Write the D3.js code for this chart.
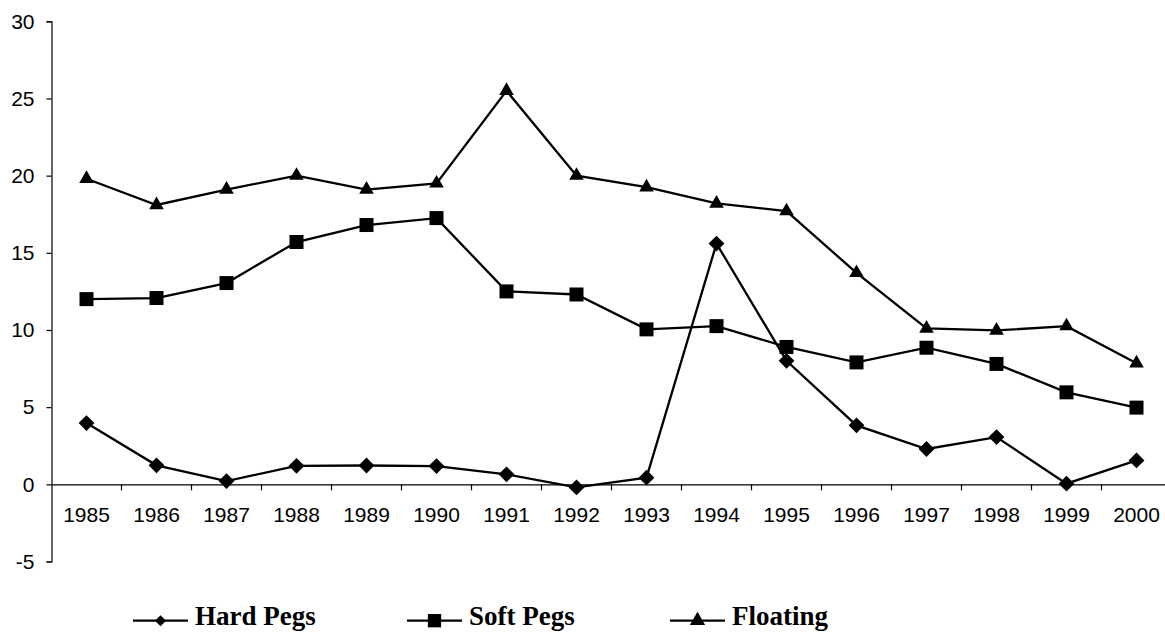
<!DOCTYPE html>
<html>
<head>
<meta charset="utf-8">
<script src="https://cdn.jsdelivr.net/npm/d3@7"></script>
<style>
  html, body { margin: 0; padding: 0; background: #fff; }
  svg { display: block; }
</style>
</head>
<body>
<div id="chart"></div>
<script>
const years = ["1985","1986","1987","1988","1989","1990","1991","1992","1993","1994","1995","1996","1997","1998","1999","2000"];
const hardPegs = [3.97, 1.23, 0.21, 1.2, 1.22, 1.18, 0.65, -0.2, 0.43, 15.6, 8.0, 3.82, 2.29, 3.06, 0.04, 1.55];
const softPegs = [12.0, 12.07, 13.04, 15.7, 16.8, 17.25, 12.5, 12.3, 10.04, 10.25, 8.9, 7.9, 8.85, 7.8, 5.96, 4.97];
const floating = [19.8, 18.1, 19.1, 20.0, 19.1, 19.5, 25.5, 20.0, 19.25, 18.2, 17.7, 13.7, 10.1, 9.97, 10.25, 7.85];
const seriesNames = ["Hard Pegs", "Soft Pegs", "Floating"];
const yTicks = [-5, 0, 5, 10, 15, 20, 25, 30];

const W = 1165, H = 632;
const svg = d3.select("#chart").append("svg").attr("width", W).attr("height", H)
  .style("font-family", "Arial, 'Liberation Sans', sans-serif");

const x = d3.scaleBand().domain(years).range([51.5, 1171.5]).paddingInner(0).paddingOuter(0);
const y = d3.scaleLinear().domain([-5, 30]).range([561.5, 21.3]);

const series = [
  { name: seriesNames[0], values: hardPegs, shape: "diamond" },
  { name: seriesNames[1], values: softPegs, shape: "square" },
  { name: seriesNames[2], values: floating, shape: "triangle" }
];

// Y axis
const yAxis = svg.append("g").attr("transform", "translate(51.5,0)")
  .call(d3.axisLeft(y).tickValues(yTicks).tickSize(5).tickPadding(12).tickFormat(d => String(d)));
yAxis.selectAll("path.domain").attr("stroke", "#000").attr("stroke-width", 1.2);
yAxis.selectAll(".tick line").attr("stroke", "#000").attr("stroke-width", 1.2);
yAxis.selectAll("text").attr("font-size", 21).attr("fill", "#000")
  .style("font-family", "Arial, 'Liberation Sans', sans-serif");

// X axis (category labels, ticks between categories)
const xAxis = svg.append("g").attr("transform", `translate(0,${y(0)})`)
  .call(d3.axisBottom(x).tickSize(0).tickPadding(22.8));
xAxis.selectAll("path.domain").attr("stroke", "#000").attr("stroke-width", 1.2);
xAxis.selectAll("text").attr("font-size", 21).attr("fill", "#000")
  .style("font-family", "Arial, 'Liberation Sans', sans-serif");
xAxis.selectAll(".boundary").data(years.slice(1)).enter().append("line")
  .attr("class", "boundary")
  .attr("x1", d => x(d)).attr("x2", d => x(d))
  .attr("y1", 0).attr("y2", 6)
  .attr("stroke", "#000").attr("stroke-width", 1.2);

// symbols
function markerPath(shape, scaleF) {
  const k = scaleF || 1;
  if (shape === "diamond") return d3.symbol().type(d3.symbolSquare).size(125 * k * k)();
  if (shape === "square") return d3.symbol().type(d3.symbolSquare).size(196 * k * k)();
  return d3.symbol().type(d3.symbolTriangle).size(92 * k * k)();
}
function markerRotate(shape) { return shape === "diamond" ? 45 : 0; }

const line = d3.line().x((d, i) => x(years[i]) + x.bandwidth() / 2).y(d => y(d));

series.forEach(s => {
  const g = svg.append("g");
  g.append("path").datum(s.values).attr("d", line)
    .attr("fill", "none").attr("stroke", "#000").attr("stroke-width", 2.3)
    .attr("stroke-linejoin", "miter");
  g.selectAll("path.mk").data(s.values).enter().append("path")
    .attr("class", "mk")
    .attr("d", markerPath(s.shape))
    .attr("transform", (d, i) => `translate(${x(years[i]) + x.bandwidth() / 2},${y(d)}) rotate(${markerRotate(s.shape)})`)
    .attr("fill", "#000");
});

// Legend
const legendX = [133, 407, 670];
const legendY = 620.7;
series.forEach((s, i) => {
  const g = svg.append("g").attr("transform", `translate(${legendX[i]},${legendY})`);
  g.append("line").attr("x1", 0).attr("x2", 55).attr("y1", 0).attr("y2", 0)
    .attr("stroke", "#000").attr("stroke-width", 2.3);
  const k = s.shape === "diamond" ? 0.7 : (s.shape === "square" ? 0.95 : 1.05);
  g.append("path").attr("d", markerPath(s.shape, k))
    .attr("transform", `translate(27.5,0) rotate(${markerRotate(s.shape)})`)
    .attr("fill", "#000");
  g.append("text").attr("x", 62).attr("y", 4.5)
    .attr("font-family", "'Liberation Serif', 'Times New Roman', serif")
    .attr("font-weight", "bold").attr("font-size", 27).attr("fill", "#000")
    .text(s.name);
});
</script>
</body>
</html>
